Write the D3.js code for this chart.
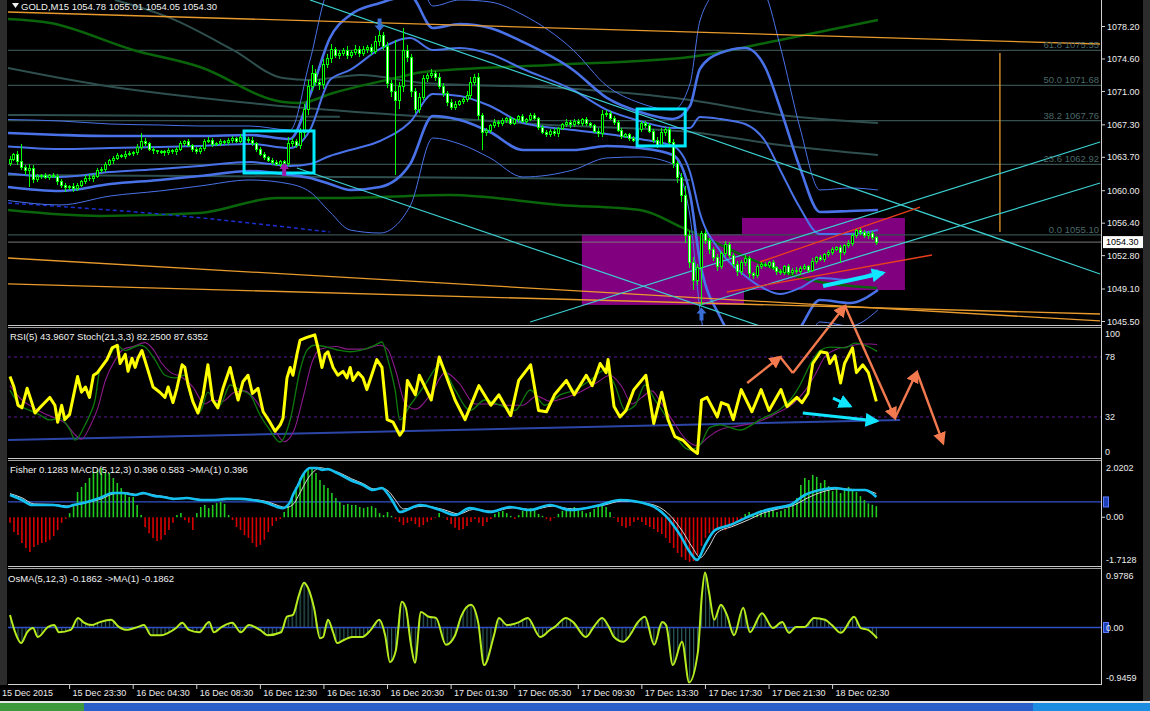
<!DOCTYPE html>
<html><head><meta charset="utf-8">
<script src="https://cdn.jsdelivr.net/npm/d3@7"></script>
<style>
html,body{margin:0;padding:0;background:#000;overflow:hidden}
svg{display:block}
text{font-family:"Liberation Sans",Arial,sans-serif}
</style></head><body>
<svg id="chart" width="1150" height="711"></svg>
<script>
// ---------------- DATA ----------------
const symbolHeader = "GOLD,M15  1054.78 1055.01 1054.05 1054.30";
const rsiHeader = "RSI(5) 43.9607   Stoch(21,3,3) 82.2500 87.6352";
const fisHeader = "Fisher 0.1283   MACD(5,12,3) 0.396 0.583   ->MA(1) 0.396";
const osHeader = "OsMA(5,12,3) -0.1862   ->MA(1) -0.1862";

const firstOpen = 1063.0;
const closes = [
1063.5,1064.0,1063.2,1062.6,1062.2,1062.5,1061.2,1061.6,1061.7,1061.5,
1061.7,1061.6,1061.0,1060.6,1060.3,1060.5,1060.2,1060.6,1061.0,1061.4,
1061.3,1061.6,1062.2,1062.4,1062.9,1063.3,1063.6,1063.9,1063.8,1064.0,
1064.1,1064.2,1064.8,1065.5,1065.2,1064.6,1064.4,1064.3,1064.3,1064.2,
1064.4,1064.3,1064.6,1065.2,1065.4,1065.0,1064.6,1064.3,1064.7,1065.5,
1065.6,1065.1,1065.2,1065.4,1065.3,1065.6,1065.8,1065.5,1065.9,1065.7,
1065.6,1065.2,1064.6,1064.0,1063.7,1063.4,1063.1,1062.9,1063.2,1063.0,
1065.2,1065.4,1065.0,1066.5,1069.0,1071.5,1073.0,1072.0,1071.8,1074.0,
1074.6,1075.6,1075.0,1075.2,1075.5,1075.0,1075.3,1075.7,1075.2,1075.6,
1075.9,1075.4,1076.5,1077.2,1076.0,1071.9,1071.0,1070.0,1071.5,1075.5,
1074.8,1071.0,1069.0,1070.3,1072.4,1072.8,1073.0,1072.6,1071.6,1070.8,
1069.8,1069.2,1069.6,1069.9,1070.1,1070.6,1072.0,1072.5,1068.3,1066.4,
1066.7,1067.2,1067.6,1067.4,1067.8,1068.0,1067.5,1067.9,1068.2,1067.7,
1067.9,1068.3,1068.0,1067.0,1066.5,1066.2,1066.6,1066.3,1066.9,1067.3,
1067.6,1067.3,1067.7,1067.5,1067.9,1067.4,1067.2,1066.6,1066.3,1068.5,
1068.6,1068.0,1067.6,1066.7,1066.0,1066.2,1065.8,1065.6,1066.8,1067.5,
1067.2,1066.6,1065.6,1065.0,1066.4,1066.8,1065.3,1063.0,1061.5,1059.5,
1055.0,1052.0,1050.0,1051.5,1055.2,1054.5,1053.5,1052.6,1051.6,1053.0,
1054.0,1052.8,1051.8,1051.0,1052.0,1052.5,1050.8,1050.6,1051.6,1051.8,
1051.7,1052.0,1051.5,1051.0,1050.9,1051.6,1050.9,1051.2,1051.0,1051.4,
1051.6,1051.2,1052.2,1052.6,1052.4,1052.9,1053.2,1053.5,1053.7,1053.2,
1053.9,1054.2,1055.0,1055.6,1055.4,1055.0,1055.3,1054.78,1054.30];
// wick lengths in tenths of a dollar
const upWick = [
3,2,4,20,3,5,3,2,2,3, 2,3,2,3,2,1,3,2,2,3, 4,2,3,2,3,2,2,3,2,4, 3,2,4,9,3,2,2,1,2,2,
3,2,2,3,2,3,2,2,3,2, 3,2,2,3,2,2,3,2,4,2, 2,3,2,2,3,2,2,3,2,2, 7,4,3,5,6,8,9,5,4,6,
5,7,3,4,3,5,3,4,3,4, 3,4,6,14,4,5,4,57,5,25, 6,3,4,5,4,3,5,3,4,3, 3,4,3,2,3,4,6,4,5,3,
3,2,3,2,3,2,3,2,2,3, 2,3,3,2,3,2,2,3,2,2, 3,2,2,3,2,3,2,2,3,4, 3,2,3,2,3,2,2,3,3,2,
2,3,2,3,5,3,3,4,3,5, 10,5,6,4,3,4,3,3,4,3, 4,3,3,4,3,4,3,2,3,3, 3,2,3,2,3,2,3,2,3,2,
3,2,3,2,3,2,2,3,2,3, 2,3,3,2,3,2,2,2,2];
const downWick = [
3,2,4,3,5,18,4,2,3,2, 3,2,4,3,5,2,3,2,2,3, 2,3,2,2,3,2,3,2,2,3, 2,3,2,3,2,2,3,2,2,3,
2,2,3,2,3,2,3,2,2,3, 2,3,2,3,2,2,3,2,2,3, 3,2,3,2,3,2,3,2,3,3, 3,4,3,4,5,6,5,4,6,5,
4,5,3,4,3,4,3,3,4,3, 3,4,3,5,4,5,6,83,10,6, 5,6,4,4,3,4,3,4,3,4, 4,3,3,2,3,3,4,3,5,19,
3,3,2,3,2,3,2,2,3,2, 3,2,2,3,2,3,2,2,3,2, 2,3,2,2,3,2,3,2,3,3, 3,2,3,2,3,2,3,2,2,3,
3,2,3,3,2,3,4,5,6,8, 8,6,10,5,42,4,5,4,5,3, 4,3,4,5,3,4,5,4,3,3, 2,3,3,4,3,2,3,3,2,3,
2,3,2,3,2,3,2,3,2,12, 3,2,3,2,3,2,3,2,3];

// Bollinger-type envelopes (bar index, price)
const bbBars = [-0.5,12.6,25.2,37.7,47.8,60.4,70.5,75.5,80.5,85.6,93.1,100.7,106.4,113.2,120.8,129.1,141.7,150.2,158.5,166.8,171.1,173.6,178.7,185,190,193.8,198.8,203.8,211.4,218.4];
const bbUpper3 = [1067.89,1067.73,1067.39,1067.28,1067.17,1067.17,1066.73,1074.49,1082.25,1082.25,1085.91,1086.24,1080.47,1081.14,1080.92,1079.48,1075.60,1071.61,1069.72,1068.95,1071.83,1078.81,1082.58,1084.24,1081.92,1076.04,1066.95,1060.08,1060.30,1060.08];
const bbUpper2 = [1066.40,1066.18,1066.06,1066.06,1066.06,1066.18,1065.73,1070.61,1076.93,1079.48,1080.81,1081.58,1078.04,1078.48,1078.04,1076.48,1073.38,1070.28,1068.72,1067.95,1069.39,1073.49,1075.26,1075.82,1073.71,1069.17,1062.52,1057.64,1057.75,1057.86];
const bbUpper1 = [1064.90,1064.62,1064.73,1064.85,1064.96,1065.18,1064.73,1066.73,1072.27,1073.38,1075.71,1076.93,1075.60,1075.82,1075.15,1073.49,1071.16,1068.95,1067.73,1066.95,1066.95,1068.17,1067.95,1067.39,1065.51,1062.30,1058.08,1055.20,1055.20,1055.64];
const bbLower1 = [1061.91,1061.52,1062.07,1062.41,1062.74,1063.18,1062.74,1062.96,1063.85,1064.51,1065.51,1067.62,1070.72,1070.50,1069.39,1067.51,1066.73,1066.29,1065.73,1064.96,1062.07,1057.53,1053.32,1050.55,1049.10,1048.55,1049.22,1050.32,1050.10,1051.21];
const bbLower2 = [1060.41,1059.97,1060.74,1061.19,1061.63,1062.18,1061.74,1061.41,1060.74,1060.08,1060.41,1062.96,1068.28,1067.84,1066.51,1064.51,1064.51,1064.96,1064.73,1063.96,1059.64,1052.21,1046.00,1042.12,1040.90,1041.68,1044.78,1047.88,1047.55,1048.99];
const bbLower3 = [1058.91,1058.42,1059.41,1059.97,1060.52,1061.19,1060.74,1059.86,1057.64,1055.64,1055.31,1058.30,1065.84,1065.18,1063.63,1061.52,1062.30,1063.63,1063.74,1062.96,1057.20,1046.89,1038.68,1033.70,1032.70,1034.80,1040.35,1045.45,1045.00,1046.78];

const maDashed = [[-0.5,1058.64],[40.3,1057.31],[80.5,1055.42]];
const maGreenUpper = [[-0.5,1079.03],[10.1,1078.59],[31,1075.60],[47.8,1073.71],[68.7,1069.83],[73,1069.72],[81.3,1070.83],[98.1,1072.60],[103.9,1073.16],[135.9,1073.93],[171.1,1074.82],[193.8,1076.71],[218.4,1078.92]];
const maGreenLower = [[-0.5,1057.86],[22.6,1057.20],[47.8,1057.53],[67.2,1059.19],[83,1059.19],[110.7,1059.52],[138.4,1058.42],[158.5,1057.86],[169.4,1055.87],[176.1,1054.54],[188.7,1051.99],[201.3,1050.10],[218.2,1049.22]];
const maGrayA = [[26.4,1081.14],[40.3,1079.15],[56.1,1075.60],[68.7,1072.49],[75.5,1072.27],[88.1,1072.83],[103.9,1071.94],[138.4,1071.39],[171.1,1070.06],[193.8,1068.4],[218.4,1067.5]];
const maGrayB = [[-0.5,1073.60],[22.6,1071.72],[60.4,1069.72],[98.1,1068.39],[135.9,1067.28],[171.1,1066.51],[193.8,1065.07],[218.4,1063.96]];
const maGrayC = [[-0.5,1068.39],[40,1068.3],[83,1068.2]];
const maGrayD = [[-0.5,1061.74],[47.8,1061.63],[83,1061.52],[123.3,1061.41],[171.1,1061.19]];

const fibLevels = ["61.8","50.0","38.2","23.6","0.0"];
const fibPrices = [1075.55,1071.68,1067.76,1062.92,1055.10];
const lastPrice = 1054.30;

const cyanLines = [[[75.5,1081.14],[274.3,1050.77]],[[72.2,1062.52],[188.7,1045.0]],[[130.9,1045.45],[274.3,1065.40]],[[173.6,1047.33],[274.3,1060.85]]];
const orangeLines = [[[-0.5,1079.81],[274.3,1076.26]],[[-0.5,1052.54],[274.3,1045.56]],[[-0.5,1049.66],[274.3,1046.33]]];
const fibVertical = [[249.1,1075.27],[249.1,1055.42]];
const redLines = [[[188.7,1052.10],[229,1058.19]],[[180.4,1048.77],[232,1052.87]]];
const cyanBoxes = [[58.9,76.5,1066.62,1061.96],[157.8,169.9,1069.06,1064.96]];
const purpleBoxes = [[143.9,184.7,1055.20,1047.33],[184.2,225.2,1056.98,1048.99]];
const sellArrow = [93, 1078.3];
const buyArrow = [174, 1046.4];
const buyArrowPurple = [69, 1062.4];
const cyanMainArrow = [[204.6,1049.44],[219.7,1050.88]];

const priceTicks = [1078.20,1074.60,1071.00,1067.30,1063.70,1060.00,1056.40,1052.80,1049.10,1045.50];
const timeLabels = ["15 Dec 23:30","16 Dec 04:30","16 Dec 08:30","16 Dec 12:30","16 Dec 16:30","16 Dec 20:30","17 Dec 01:30","17 Dec 05:30","17 Dec 09:30","17 Dec 13:30","17 Dec 17:30","17 Dec 21:30","18 Dec 02:30"];
const timeBars = [15,31,47,63,79,95,111,127,143,159,175,191,207];

// RSI / Stochastic
const rsi = [[0,63],[1,55],[2,41],[3,39],[4.3,54],[5.5,43],[6.3,35],[7.5,39],[10,47],[11.3,41],[12,28],[13,41],[13.8,30],[15,34],[17,63],[18,51],[19,55],[20,47],[21,64],[22,66],[24.4,76],[25.7,85],[27,87],[27.7,73],[29,80],[29.7,67],[30.7,77],[31.5,70],[32.2,77],[33.2,83],[34.5,70],[36,55],[37.7,51],[39,47],[39.8,55],[41,43],[42,54],[43.3,72],[44,70],[44.8,57],[46,44],[47.3,35],[48.6,49],[49.8,72],[51,45],[52.3,39],[53.6,54],[55.4,70],[56,62],[57.4,45],[58.6,59],[59.9,64],[61,50],[62.4,54],[63.7,36],[65.4,28],[66.7,21],[68,26],[68.7,31],[69.7,62],[70.5,70],[71.2,64],[72.2,80],[73,91],[74.7,93],[76.7,95],[77.5,85],[78.5,70],[79.3,80],[80,82],[81.3,70],[82.5,64],[83.8,67],[84.8,62],[85.6,70],[86.3,60],[87.6,66],[88.8,62],[89.8,53],[91,64],[92.3,76],[93.6,70],[94.9,30],[96.4,28],[98.1,18],[99,22],[100,60],[102,49],[103,64],[106,45],[108,78],[112,45],[114.5,30],[118,56],[121,41],[123,49],[126,33],[128,60],[131,72],[133,37],[135,36],[137,49],[140,60],[142,49],[145,64],[146.5,56],[148.5,73],[150,66],[150.5,76],[152,40],[153.5,32],[155,37],[157,53],[160,64],[162,27],[164,51],[165.6,30],[167.3,17],[169.4,14],[171.6,7],[173,4],[174,45],[175.4,47],[178,32],[179,43],[180.7,41],[182,30],[184,53],[186.7,36],[189,53],[191,37],[194,53],[195.5,40],[198,47],[199.3,43],[200.8,50],[202,73],[204,82],[205.6,81],[206.3,73],[207.6,79],[209,58],[210,73],[212,85],[213,66],[214.6,72],[216,66],[218,44]];
const stochMain = [[0,52.6],[2.5,41],[5,37],[7.5,33.5],[10,29.7],[12.6,31],[15.1,22],[16.4,14.3],[18.9,26],[20.1,33.5],[21.4,45],[22.6,68],[25.2,79.5],[26.9,87],[28.9,83],[32.7,87],[34,85.6],[36.5,75.7],[39,64],[41.5,62],[44,64],[45.3,49],[47.8,36],[49.8,51],[51.6,43.5],[52.8,41],[55.4,56.5],[57.9,52.7],[60.4,49],[62.9,33.5],[65.4,22],[67.9,12.8],[70.5,29.7],[73,68],[74.7,83],[76.7,87],[80.5,85],[83,83],[85.6,82],[88.1,83],[91.8,87],[93.6,89.5],[95.1,75.7],[96.9,52.7],[98.1,29.7],[100.7,41],[104.4,56.5],[108.2,72],[112,52.7],[115.8,37],[119.5,45],[123.3,41],[127.1,37],[130.9,52.7],[134.6,41],[138.4,49],[142.2,52.7],[145.9,60],[149.7,68],[152.2,56.5],[154.8,37],[157.3,41],[159.8,56.5],[162.3,45],[164.8,33.5],[167.3,18.2],[171.1,6.7],[173.6,10.5],[176.1,24],[178.7,26],[183.7,22],[188.7,30],[193.8,38],[196.3,45],[198.8,56.5],[201.3,72],[203.8,83],[206.3,85.6],[210.1,85],[212.6,88.7],[215.2,87],[218.2,82.3]];
const stochSignal = [[0,56],[3,45],[6,39],[9,34],[11.5,31],[14,27],[16.5,18],[18,15],[20,24],[22,38],[24,60],[26.5,76],[28.5,84],[31,86],[34,89],[36,84],[38,74],[40.5,66],[43,63],[46,55],[49,42],[51,45],[53.5,44],[56.5,51],[59,52],[62,44],[64.5,32],[67,20],[69,13],[71.5,22],[74,50],[76,74],[78,84],[82,86],[85,84],[89,84],[93,87],[95,84],[97,68],[99.5,42],[102,38],[106,50],[109.5,66],[113,58],[117,42],[121,42],[125,41],[129,41],[132.5,48],[136,44],[140,47],[144,52],[147.5,58],[151,64],[154,55],[156.5,42],[159,47],[161.5,52],[164,42],[167,28],[170,15],[173,10],[175.5,16],[178.5,22],[183,25],[188,28],[193,35],[197,42],[200,52],[202.5,64],[205,78],[208,84],[211,86],[214,88],[216.5,88],[218.2,87.6]];
const rsiLevels = [78, 32];
const rsiTrend = [[-0.5,14.3],[224,29.7]];
const orangeZig = [[185.5,58.1],[193.8,78.0],[197,65.7],[210.1,117.1],[222.7,31.2],[228.2,66.5],[234.8,12.0]];
const orangeHeads = [true,false,true,true,true,true];
const cyanRsiArrows = [[[199.5,35.0],[218.1,28.9]],[[207.1,46.5],[211.4,40.4]]];

// Fisher / MACD
const macdHist = [
-0.2,-0.53,-0.64,-0.92,-1.1,-1.25,-1.07,-0.99,-0.92,-0.89,
-0.81,-0.67,-0.46,-0.2,-0.06,0.15,0.44,0.91,1.09,1.23,
1.41,1.59,1.7,1.77,1.63,1.59,1.41,1.23,1.05,0.87,
0.73,0.73,0.44,0.08,-0.35,-0.57,-0.74,-0.85,-0.81,-0.64,
-0.46,-0.2,0.08,0.15,-0.1,-0.2,-0.46,0.15,0.37,0.44,
0.33,0.44,0.51,0.55,0.48,0.08,-0.1,-0.35,-0.46,-0.64,
-0.74,-0.92,-1.07,-0.99,-0.81,-0.53,-0.31,-0.13,-0.06,0.19,
0.44,0.73,1.09,1.41,1.59,1.7,1.77,1.59,1.34,1.16,
1.05,0.87,0.69,0.55,0.44,0.48,0.44,0.44,0.37,0.33,
0.37,0.4,0.33,0.15,0.08,0.19,0.05,-0.06,-0.17,-0.28,
-0.2,-0.13,-0.24,-0.35,-0.28,-0.17,-0.1,-0.03,0.15,0.01,
-0.1,-0.24,-0.38,-0.46,-0.42,-0.31,-0.17,-0.06,-0.2,-0.31,
-0.17,-0.06,0.12,0.19,0.23,0.15,0.05,-0.06,0.08,0.23,
0.3,0.33,0.26,0.12,0.05,-0.06,-0.13,-0.03,0.12,0.23,
0.3,0.33,0.37,0.3,0.23,0.15,0.19,0.3,0.37,0.44,
0.37,0.19,-0.03,-0.17,-0.31,-0.38,-0.31,-0.17,-0.1,-0.17,
-0.28,-0.35,-0.42,-0.53,-0.6,-0.74,-0.92,-1.1,-1.28,-1.43,
-1.53,-1.6,-1.57,-1.35,-1.03,-0.74,-0.57,-0.46,-0.42,-0.38,
-0.46,-0.38,-0.31,-0.2,-0.06,0.12,0.19,0.08,0.19,0.26,
0.3,0.33,0.26,0.19,0.23,0.3,0.37,0.51,0.69,1.16,
1.41,1.34,1.52,1.45,1.23,1.34,1.12,0.94,1.05,0.87,
0.98,1.09,1.01,0.91,0.76,0.62,0.5,0.45,0.4];
const fisher = [[0,0.80],[3,0.62],[5.5,0.44],[10.8,0.44],[14.3,0.37],[15.9,0.44],[19.4,0.55],[22.6,0.69],[25.9,0.87],[28.4,0.87],[31.5,0.80],[33.5,0.87],[36.5,0.76],[38.5,0.73],[41,0.66],[44.5,0.69],[48,0.62],[51,0.62],[54.5,0.66],[57.9,0.66],[61,0.62],[64.7,0.51],[67.2,0.37],[68.7,0.33],[70.5,0.55],[71.2,0.80],[72.5,1.16],[73.7,1.52],[75.5,1.77],[77.2,1.77],[78.5,1.70],[80,1.73],[82.3,1.59],[85.6,1.34],[88.8,1.16],[91.3,0.98],[93.6,1.05],[94.9,0.87],[96.4,0.55],[98.1,0.19],[103.2,0.44],[108.2,0.26],[112,0.08],[115.7,0.33],[120.8,0.19],[125.8,0.37],[130.8,0.26],[135.9,0.44],[140.9,0.26],[148.5,0.44],[153.5,0.62],[161,0.44],[164.8,0.08],[168.6,-0.63],[171.1,-1.25],[172.9,-1.53],[174.9,-1.0],[177.4,-0.46],[181.2,-0.28],[185,-0.03],[188.7,0.19],[192.5,0.33],[196.3,0.44],[200,0.80],[203.8,0.98],[207.6,1.05],[211.4,0.98],[215.2,0.98],[218,0.73]];
const fisherMA = [[0,0.85],[3,0.70],[6,0.48],[11,0.46],[15,0.40],[17,0.45],[20,0.55],[23,0.66],[26,0.84],[29,0.88],[32,0.82],[34,0.85],[37,0.78],[39,0.74],[42,0.66],[45,0.68],[48,0.64],[51,0.62],[55,0.64],[58,0.66],[61,0.64],[65,0.55],[67.5,0.42],[69.5,0.35],[71.5,0.50],[72.5,0.75],[73.8,1.10],[75,1.40],[76.5,1.65],[78,1.78],[80,1.72],[82.5,1.62],[86,1.38],[89,1.20],[91.5,1.02],[94,1.03],[95.5,0.90],[97,0.62],[99,0.30],[104,0.40],[109,0.28],[113,0.12],[116.5,0.28],[121.5,0.22],[126.5,0.34],[131.5,0.28],[136.5,0.40],[141.5,0.30],[149,0.42],[154,0.58],[161.5,0.46],[165.5,0.15],[169.2,-0.50],[171.8,-1.10],[173.7,-1.45],[175.7,-1.10],[178,-0.55],[182,-0.32],[186,-0.08],[189.5,0.15],[193.3,0.30],[197,0.42],[200.8,0.70],[204.6,0.92],[208.4,1.02],[212.2,1.00],[216,0.95],[218,0.85]];
const fisLevel = 0.55;
const fisTicks = [2.0202, 0.00, -1.7128];

// OsMA
const osma = [[0,0.21],[1.3,-0.08],[2.8,-0.26],[4.3,-0.08],[5.8,-0.01],[7,-0.16],[9.6,0.01],[11.1,0.04],[12.3,-0.08],[15.3,-0.04],[17.1,0.16],[18.6,0.08],[20.6,0.04],[22.6,0.09],[25.4,0.13],[27.4,0.01],[29.2,-0.04],[32.2,0.01],[33.7,0.04],[35.5,-0.13],[38,-0.13],[39.8,-0.09],[41.8,-0.01],[43.3,0.08],[45,-0.04],[47.6,-0.08],[50.1,0.09],[51.3,-0.08],[53.3,0.01],[55.9,0.08],[58.1,-0.08],[60.1,0.04],[62.9,-0.04],[64.9,-0.13],[68.2,-0.08],[69.7,0.18],[71.2,0.21],[72.7,0.54],[74,0.75],[75,0.66],[76.5,0.33],[78,-0.18],[78.8,-0.16],[80,0.13],[81.3,-0.08],[82.3,-0.26],[84,-0.21],[86.1,-0.16],[88.6,-0.16],[90.8,-0.04],[92.9,0.13],[94.4,-0.13],[95.6,-0.58],[97.1,-0.38],[98.6,0.43],[99.6,0.33],[100.9,-0.29],[101.9,-0.59],[103.4,0.26],[105.4,0.18],[107.2,0.16],[109.7,-0.29],[112,-0.13],[113.5,0.18],[116,0.38],[117.8,0.09],[119.3,-0.63],[121.8,-0.13],[123,0.16],[125.1,0.04],[128.1,0.09],[130.3,0.16],[133.4,-0.16],[135.9,-0.04],[137.1,0.01],[139.9,0.16],[141.7,0.09],[144.9,-0.16],[147.2,0.04],[149,0.16],[150.7,0.01],[152,-0.16],[154.3,-0.24],[156,-0.13],[158,0.09],[159.8,0.18],[162.1,-0.29],[164.1,0.09],[165.1,0.04],[166.8,-0.63],[169.1,-0.24],[170.9,-0.92],[173.1,-0.41],[174.1,0.54],[174.9,0.92],[175.9,0.59],[177.2,0.13],[178.9,0.38],[180.4,0.21],[182.2,-0.13],[184.5,0.33],[186.2,-0.08],[189.2,0.24],[192,-0.01],[194.3,0.09],[196,-0.09],[197.8,0.01],[200,0.01],[202.3,0.16],[205.1,0.13],[206.8,0.04],[209.1,-0.09],[212.4,0.18],[214.1,-0.01],[215.9,-0.04],[218.2,-0.18]];
const osTicks = [0.9786, 0.00, -0.9459];

// ---------------- DRAWING ----------------
const svg = d3.select("#chart");
const defs = svg.append("defs");
const PL = 8, PR = 1101;
const panels = {main:[0,325], rsi:[328,458.5], fis:[461,566], os:[569,684]};
function clip(id, p){ defs.append("clipPath").attr("id",id).append("rect").attr("x",PL).attr("y",p[0]).attr("width",PR-PL).attr("height",p[1]-p[0]); }
clip("cMain",panels.main); clip("cRsi",panels.rsi); clip("cFis",panels.fis); clip("cOs",panels.os);
function marker(id,color,size){
  defs.append("marker").attr("id",id).attr("viewBox","0 0 10 10").attr("refX",8).attr("refY",5)
    .attr("markerWidth",size).attr("markerHeight",size).attr("markerUnits","userSpaceOnUse").attr("orient","auto")
    .append("path").attr("d","M0,0L10,5L0,10Z").attr("fill",color);
}
marker("mOrange","#f27a4e",13); marker("mCyan","#10e6ff",14);

const x = d3.scaleLinear().domain([0,218]).range([10, 10+218*3.974]);
const yMain = d3.scaleLinear().domain([1045.5,1078.2]).range([321.5,26.5]);
const yRsi = d3.scaleLinear().domain([0,100]).range([458.7,328.3]);
const yFis = d3.scaleLinear().domain([-1.7128,2.0202]).range([565,461]);
const yOs = d3.scaleLinear().domain([-0.9459,0.9786]).range([684,569]);

const hp = defs.append("pattern").attr("id","hatch").attr("patternUnits","userSpaceOnUse")
  .attr("x", x(0)-0.5).attr("y",0).attr("width", x(1)-x(0)).attr("height",10);
hp.append("rect").attr("x",0).attr("y",0).attr("width",1.2).attr("height",10).attr("fill","#2e5c5c");

svg.append("rect").attr("width",1150).attr("height",711).attr("fill","#000");

function line(g, pts, ys, color, w, curve, dash){
  const ln = d3.line().x(d=>x(d[0])).y(d=>ys(d[1])).curve(curve||d3.curveLinear);
  const p = g.append("path").attr("d",ln(pts)).attr("fill","none").attr("stroke",color).attr("stroke-width",w).attr("stroke-linejoin","round");
  if(dash) p.attr("stroke-dasharray",dash);
  return p;
}
const zip = arr => bbBars.map((b,i)=>[b,arr[i]]);

// ---- main panel ----
const gm = svg.append("g").attr("clip-path","url(#cMain)");
purpleBoxes.forEach(b=>{
  gm.append("rect").attr("x",x(b[0])).attr("y",yMain(b[2])).attr("width",x(b[1])-x(b[0])).attr("height",yMain(b[3])-yMain(b[2])).attr("fill","#800080");
});
fibPrices.forEach(p=>{
  gm.append("line").attr("x1",PL).attr("x2",PR).attr("y1",yMain(p)).attr("y2",yMain(p)).attr("stroke","#354f4f").attr("stroke-width",1.2);
});
gm.append("line").attr("x1",PL).attr("x2",PR).attr("y1",yMain(lastPrice)).attr("y2",yMain(lastPrice)).attr("stroke","#7a7a7a").attr("stroke-width",1);

[maGrayA,maGrayB,maGrayC,maGrayD].forEach(s=>line(gm,s,yMain,"#2f4f4f",2,d3.curveMonotoneX));
line(gm,maGreenUpper,yMain,"#0a640a",2.5,d3.curveMonotoneX);
line(gm,maGreenLower,yMain,"#0a640a",2.5,d3.curveMonotoneX);
line(gm,maDashed,yMain,"#1c2fd0",1.5,d3.curveMonotoneX,"4,3");

line(gm,zip(bbUpper3),yMain,"#4a72e8",1,d3.curveMonotoneX);
line(gm,zip(bbLower3),yMain,"#4a72e8",1,d3.curveMonotoneX);
line(gm,zip(bbUpper1),yMain,"#4a72e8",2,d3.curveMonotoneX);
line(gm,zip(bbLower1),yMain,"#4a72e8",2,d3.curveMonotoneX);
line(gm,zip(bbUpper2),yMain,"#4a72e8",2.6,d3.curveMonotoneX);
line(gm,zip(bbLower2),yMain,"#4a72e8",2.6,d3.curveMonotoneX);

orangeLines.forEach(s=>line(gm,s,yMain,"#e89a2c",1.3));
line(gm,fibVertical,yMain,"#e89a2c",1.3);
cyanLines.forEach(s=>line(gm,s,yMain,"#3ccfd0",1.2));
redLines.forEach(s=>line(gm,s,yMain,"#e8401c",1.3));

// candles
const gc = gm.append("g").attr("shape-rendering","crispEdges");
closes.forEach((c,i)=>{
  const o = i===0 ? firstOpen : closes[i-1];
  const hi = Math.max(o,c)+upWick[i]/10, lo = Math.min(o,c)-downWick[i]/10;
  const px = x(i);
  gc.append("line").attr("x1",px).attr("x2",px).attr("y1",yMain(hi)).attr("y2",yMain(lo)).attr("stroke","#00ff00").attr("stroke-width",1);
  const top = yMain(Math.max(o,c)), bot = yMain(Math.min(o,c));
  gc.append("rect").attr("x",px-1).attr("y",top).attr("width",2).attr("height",Math.max(0.6,bot-top))
    .attr("fill", c>=o ? "#000" : "#ffffff").attr("stroke","#00ff00").attr("stroke-width",1);
});

cyanBoxes.forEach(b=>{
  gm.append("rect").attr("x",x(b[0])).attr("y",yMain(b[2])).attr("width",x(b[1])-x(b[0])).attr("height",yMain(b[3])-yMain(b[2]))
    .attr("fill","none").attr("stroke","#00eaff").attr("stroke-width",3);
});
// arrow glyphs
function arrowGlyph(pt, dir, color){
  const cx = x(pt[0]), cy = yMain(pt[1]);
  const d = dir==="down" ? `M${cx-2},${cy-7}L${cx+2},${cy-7}L${cx+2},${cy}L${cx+5},${cy}L${cx},${cy+6}L${cx-5},${cy}L${cx-2},${cy}Z`
                         : `M${cx-2},${cy+7}L${cx+2},${cy+7}L${cx+2},${cy}L${cx+5},${cy}L${cx},${cy-6}L${cx-5},${cy}L${cx-2},${cy}Z`;
  gm.append("path").attr("d",d).attr("fill",color);
}
arrowGlyph(sellArrow,"down","#3b6fd8");
arrowGlyph(buyArrow,"up","#3b6fd8");
arrowGlyph(buyArrowPurple,"up","#a01aa8");
line(gm,cyanMainArrow,yMain,"#10e6ff",4).attr("marker-end","url(#mCyan)");

// fib labels
fibLevels.forEach((l,i)=>{
  svg.append("text").attr("x",PR-2).attr("y",yMain(fibPrices[i])-2).attr("text-anchor","end")
    .attr("font-size","9.5px").attr("fill","#4a6868").text(l+"  "+fibPrices[i].toFixed(2));
});

// ---- RSI panel ----
const gr = svg.append("g").attr("clip-path","url(#cRsi)");
rsiLevels.forEach(v=>{
  gr.append("line").attr("x1",PL).attr("x2",PR).attr("y1",yRsi(v)).attr("y2",yRsi(v)).attr("stroke","#5a1a96").attr("stroke-width",1).attr("stroke-dasharray","3,3");
});
line(gr,rsiTrend,yRsi,"#2c46a8",2);
line(gr,stochSignal,yRsi,"#8a1a8a",1.1,d3.curveMonotoneX);
line(gr,stochMain,yRsi,"#0c7a0c",1.3,d3.curveMonotoneX);
line(gr,rsi,yRsi,"#ffff00",3);

// ---- Fisher / MACD panel ----
const gf = svg.append("g").attr("clip-path","url(#cFis)");
gf.append("line").attr("x1",PL).attr("x2",PR).attr("y1",yFis(fisLevel)).attr("y2",yFis(fisLevel)).attr("stroke","#3050c8").attr("stroke-width",1.2);
const gh = gf.append("g");
macdHist.forEach((v,i)=>{
  gh.append("line").attr("x1",x(i)).attr("x2",x(i)).attr("y1",yFis(0)).attr("y2",yFis(v))
    .attr("stroke", v>=0 ? "#1ecb1e" : "#d80000").attr("stroke-width",1.6);
});
line(gf,fisherMA,yFis,"#d8d8d8",1,d3.curveMonotoneX);
line(gf,fisher,yFis,"#14c0f0",2.6,d3.curveMonotoneX);

// ---- OsMA panel ----
const go = svg.append("g").attr("clip-path","url(#cOs)");
go.append("path").attr("d", d3.area().x(d=>x(d[0])).y0(yOs(0)).y1(d=>yOs(d[1])).curve(d3.curveMonotoneX)(osma)).attr("fill","url(#hatch)");
go.append("line").attr("x1",PL).attr("x2",PR).attr("y1",yOs(0)).attr("y2",yOs(0)).attr("stroke","#3050c8").attr("stroke-width",1.4);
line(go,osma,yOs,"#b6ec1e",2,d3.curveMonotoneX);

// ---- annotations ----
const ga = svg.append("g");
for(let i=0;i<orangeZig.length-1;i++){
  const p = line(ga,[orangeZig[i],orangeZig[i+1]],yRsi,"#f27a4e",2.4);
  if(orangeHeads[i]) p.attr("marker-end","url(#mOrange)");
}
cyanRsiArrows.forEach(s=>line(ga,s,yRsi,"#10e6ff",3).attr("marker-end","url(#mCyan)"));

// ---- frame, separators, axes ----
const fr = svg.append("g");
[[325.5,327.5],[458.5,460.5],[566.5,568.5]].forEach(s=>{
  fr.append("line").attr("x1",PL).attr("x2",PR+1).attr("y1",s[0]).attr("y2",s[0]).attr("stroke","#c8c8c8");
  fr.append("line").attr("x1",PL).attr("x2",PR+1).attr("y1",s[1]).attr("y2",s[1]).attr("stroke","#a0a0a0");
});
fr.append("line").attr("x1",PL).attr("x2",PR+1).attr("y1",684.5).attr("y2",684.5).attr("stroke","#d0d0d0");
fr.append("line").attr("x1",PR+0.5).attr("x2",PR+0.5).attr("y1",0).attr("y2",685).attr("stroke","#d0d0d0");

const tx = svg.append("g").attr("font-size","9px").attr("fill","#ececec");
priceTicks.forEach(v=>{
  fr.append("line").attr("x1",PR).attr("x2",PR+4).attr("y1",yMain(v)).attr("y2",yMain(v)).attr("stroke","#d0d0d0");
  tx.append("text").attr("x",PR+6).attr("y",yMain(v)).attr("dy","0.35em").text(v.toFixed(2));
});
fr.append("rect").attr("x",PR+2).attr("y",yMain(lastPrice)-6).attr("width",40).attr("height",12).attr("fill","#ffffff");
svg.append("text").attr("x",PR+5).attr("y",yMain(lastPrice)).attr("dy","0.35em").attr("font-size","9px").attr("fill","#000").text(lastPrice.toFixed(2));

[100,78,32,0].forEach(v=>{
  const yy = Math.max(334, Math.min(452, yRsi(v)));
  tx.append("text").attr("x",PR+4).attr("y",yy).attr("dy","0.35em").text(String(v));
});
fisTicks.forEach(v=>{
  const yy = Math.max(468, Math.min(560, yFis(v)));
  if(v===0) fr.append("line").attr("x1",PR).attr("x2",PR+4).attr("y1",yy).attr("y2",yy).attr("stroke","#d0d0d0");
  tx.append("text").attr("x",PR+5).attr("y",yy).attr("dy","0.35em").text(v===0?"0.00":String(v));
});
osTicks.forEach(v=>{
  const yy = Math.max(576, Math.min(678, yOs(v)));
  tx.append("text").attr("x",PR+5).attr("y",yy).attr("dy","0.35em").text(v===0?"0.00":String(v));
});
[yFis(fisLevel), yOs(0)].forEach(yy=>{
  fr.append("rect").attr("x",PR+2.5).attr("y",yy-5).attr("width",5).attr("height",10).attr("fill","#1d3fb8").attr("stroke","#5a7cff").attr("stroke-width",1);
});

// time axis
timeBars.forEach((b,i)=>{
  fr.append("line").attr("x1",x(b)).attr("x2",x(b)).attr("y1",684).attr("y2",689).attr("stroke","#d0d0d0");
  tx.append("text").attr("x",x(b)+3).attr("y",696).text(timeLabels[i]);
});
tx.append("text").attr("x",2).attr("y",696).text("15 Dec 2015");

// headers
const hd = svg.append("g").attr("fill","#f0f0f0").attr("font-size","9.5px");
hd.append("path").attr("d","M12,3L19,3L15.5,8Z").attr("fill","#f0f0f0");
hd.append("text").attr("x",21).attr("y",9.5).text(symbolHeader);
hd.append("text").attr("x",10).attr("y",340).text(rsiHeader);
hd.append("text").attr("x",10).attr("y",473).text(fisHeader);
hd.append("text").attr("x",8).attr("y",582).text(osHeader);

// window chrome
svg.append("rect").attr("x",0).attr("y",0).attr("width",7).attr("height",685).attr("fill","#2c2c2c");
svg.append("rect").attr("x",1143).attr("y",0).attr("width",7).attr("height",701).attr("fill","#2c2c2c");
svg.append("rect").attr("x",0).attr("y",701).attr("width",1150).attr("height",2).attr("fill","#e6e6e6");
svg.append("rect").attr("x",0).attr("y",703).attr("width",1150).attr("height",8).attr("fill","#2a5fc9");
svg.append("rect").attr("x",0).attr("y",703).attr("width",84).attr("height",8).attr("fill","#3c9a3c");
svg.append("rect").attr("x",1033).attr("y",703).attr("width",117).attr("height",8).attr("fill","#1c8de0");
</script></body></html>
